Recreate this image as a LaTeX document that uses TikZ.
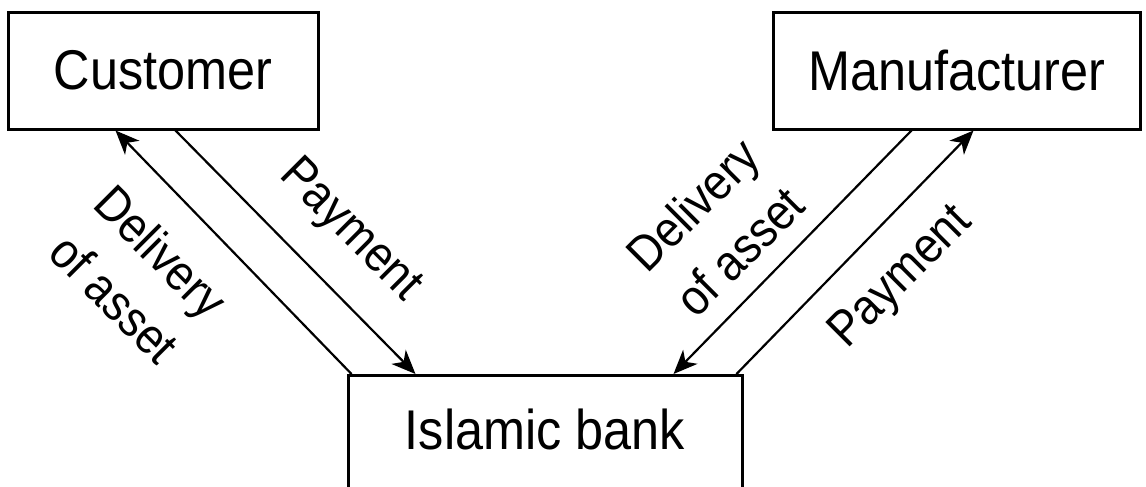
\documentclass[tikz,border=0pt]{standalone}
\usepackage{fontspec}
\setmainfont{Liberation Sans}[FakeStretch=0.9]
\usetikzlibrary{arrows.meta}

\begin{document}
\begin{tikzpicture}[x=0.5pt, y=-0.5pt, line width=1.1pt, >={Stealth[length=12pt,width=10pt,inset=3.5pt]},
  box/.style={draw, line width=1.5pt, font=\fontsize{28}{32}\selectfont},
  lbl/.style={align=center, font=\fontsize{25}{33}\selectfont}]

\clip (0,0) rectangle (1146,487);

\node[box, minimum width=155pt, minimum height=58.5pt] (cust) at (163,70.5) {Customer};
\node[box, minimum width=183.5pt, minimum height=58.5pt] (manu) at (956.5,70.5) {Manufacturer};
\node[box, anchor=north, minimum width=197pt, minimum height=100pt, text height=20pt, text depth=46pt] (bank) at (545,374) {Islamic bank};

\draw[->] ([xshift=2.5pt]bank.north west)--([xshift=54.5pt]cust.south west);
\draw[->] ([xshift=84.5pt]cust.south west)--([xshift=34.5pt]bank.north west);
\draw[->] ([xshift=70pt]manu.south west)--([xshift=-35pt]bank.north east);
\draw[->] ([xshift=-3.5pt]bank.north east)--([xshift=101pt]manu.south west);

\node[lbl, rotate=-45] (deliv1) at (138,275) {Delivery\\of asset};
\node[lbl, rotate=-45] (pay1) at (350,231) {Payment};
\node[lbl, rotate=45] (deliv2) at (716,228) {Delivery\\of asset};
\node[lbl, rotate=45] (pay2) at (902,278) {Payment};

\end{tikzpicture}
\end{document}
